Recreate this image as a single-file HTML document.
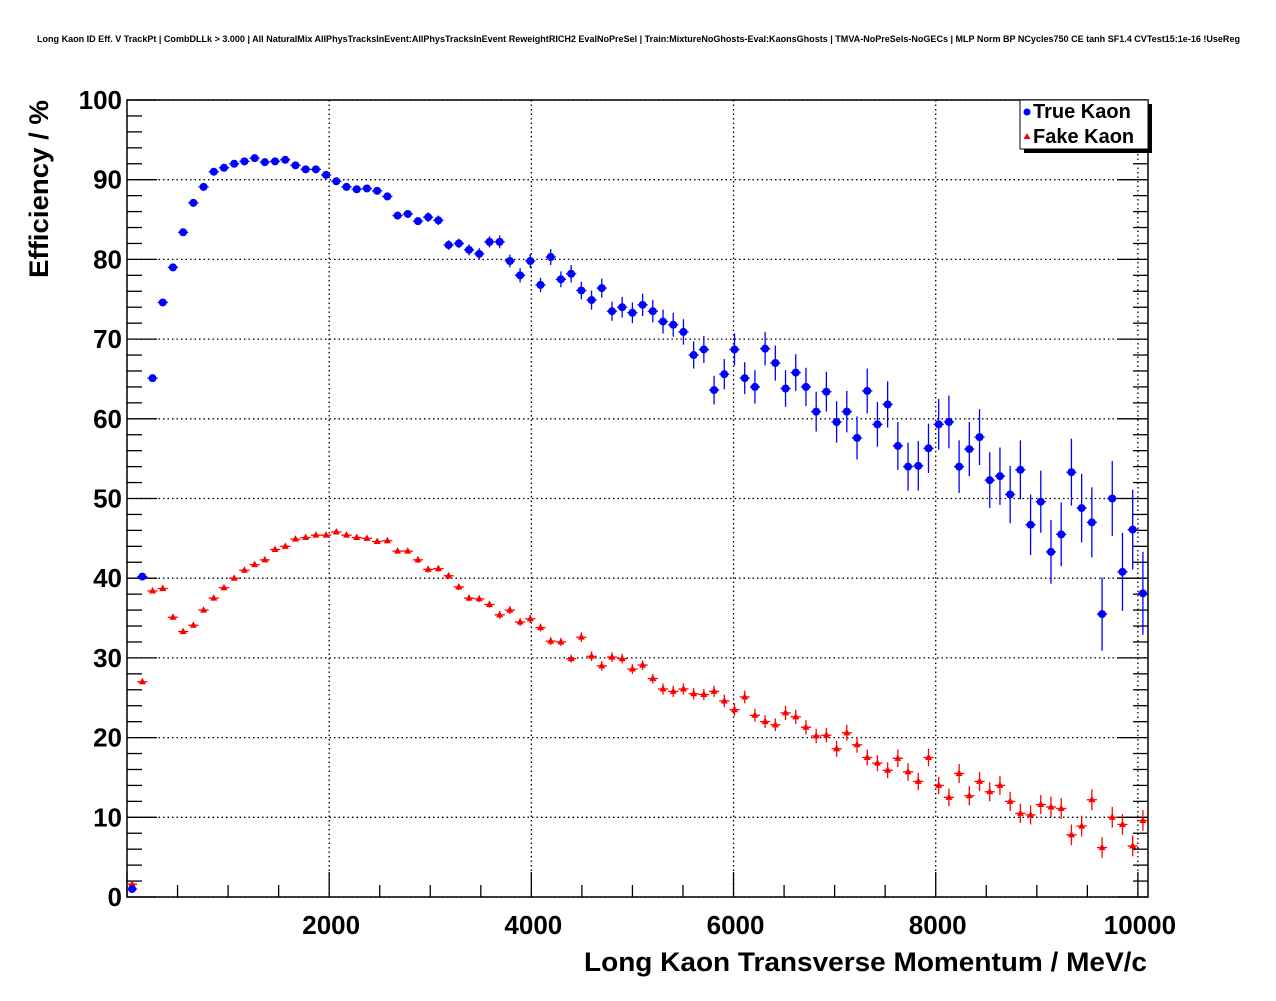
<!DOCTYPE html>
<html><head><meta charset="utf-8"><style>
html,body{margin:0;padding:0;background:#fff;}
svg text{font-family:"Liberation Sans",Arial,sans-serif;font-weight:bold;}
</style></head><body>
<svg id="chart" width="1276" height="996" xmlns="http://www.w3.org/2000/svg">
<rect width="1276" height="996" fill="#fff"/>
<text x="37" y="42" font-size="9" textLength="1203" lengthAdjust="spacingAndGlyphs">Long Kaon ID Eff. V TrackPt | CombDLLk &gt; 3.000 | All NaturalMix AllPhysTracksInEvent:AllPhysTracksInEvent ReweightRICH2 EvalNoPreSel | Train:MixtureNoGhosts-Eval:KaonsGhosts | TMVA-NoPreSels-NoGECs | MLP Norm BP NCycles750 CE tanh SF1.4 CVTest15:1e-16 !UseReg</text>
<g id="grid"></g>
<g id="axes"></g>
<g id="marks"></g>
<text transform="translate(48,278) rotate(-90)" font-size="27" textLength="178" lengthAdjust="spacingAndGlyphs">Efficiency / %</text>
<text x="584" y="971" font-size="27" textLength="563" lengthAdjust="spacingAndGlyphs">Long Kaon Transverse Momentum / MeV/c</text>
<g>
<rect x="1024" y="104" width="128" height="49" fill="#000"/>
<rect x="1020" y="100" width="128" height="49" fill="#fff" stroke="#000" stroke-width="1"/>
<circle cx="1027" cy="112" r="3.5" fill="#0000ff"/>
<text x="1033" y="118" font-size="20">True Kaon</text>
<polygon points="1027,133 1023.5,139 1030.5,139" fill="#ff0000"/>
<text x="1033" y="143" font-size="20">Fake Kaon</text>
</g>
</svg>
<script>
const trueKaon = [1,40.2,65.1,74.6,79,83.4,87.1,89.1,91,91.5,92,92.3,92.7,92.2,92.3,92.5,91.8,91.3,91.3,90.6,89.8,89.1,88.8,88.9,88.6,87.9,85.5,85.7,84.8,85.3,84.9,81.8,82,81.2,80.7,82.2,82.2,79.8,78,79.8,76.8,80.3,77.5,78.2,76.1,74.9,76.4,73.5,74,73.3,74.3,73.5,72.2,71.8,70.9,68,68.7,63.6,65.6,68.7,65.1,64,68.8,67,63.8,65.8,64,60.9,63.4,59.6,60.9,57.6,63.5,59.3,61.8,56.6,54,54.1,56.3,59.3,59.6,54,56.2,57.7,52.3,52.8,50.5,53.6,46.7,49.6,43.3,45.5,53.3,48.8,47,35.5,50,40.8,46.1,38.1];
const trueKaonErr = [0.3,0.4,0.4,0.3,0.3,0.3,0.3,0.3,0.3,0.3,0.3,0.3,0.3,0.3,0.3,0.3,0.3,0.3,0.3,0.3,0.4,0.4,0.4,0.4,0.4,0.5,0.5,0.5,0.5,0.6,0.6,0.6,0.6,0.7,0.7,0.7,0.8,0.8,0.9,0.9,0.9,1,1,1.1,1.1,1.2,1.2,1.2,1.3,1.3,1.4,1.4,1.5,1.5,1.6,1.7,1.7,1.8,1.9,2,2,2.1,2.1,2.2,2.3,2.3,2.4,2.5,2.5,2.6,2.6,2.7,2.8,2.8,2.9,3,3,3.1,3.1,3.2,3.3,3.3,3.4,3.5,3.5,3.6,3.6,3.7,3.8,3.9,4,4,4.2,4.3,4.4,4.6,4.7,4.9,5,5.2];
const fakeKaon = [1.6,27,38.4,38.7,35.1,33.3,34.1,36,37.5,38.8,40,41,41.7,42.3,43.6,44,44.9,45.1,45.4,45.4,45.8,45.4,45.1,45,44.6,44.7,43.4,43.4,42.3,41.1,41.2,40.3,38.9,37.5,37.4,36.7,35.4,36,34.5,34.9,33.8,32.1,32,29.9,32.6,30.2,29,30.1,29.9,28.6,29.1,27.4,26.1,25.8,26.1,25.5,25.4,25.8,24.6,23.5,25.1,22.8,22,21.6,23.1,22.6,21.3,20.2,20.3,18.6,20.6,19.1,17.5,16.8,15.9,17.4,15.7,14.5,17.5,14,12.5,15.5,12.7,14.5,13.2,14,12,10.5,10.3,11.6,11.3,11.1,7.8,8.9,12.2,6.2,10,9.1,6.4,9.6];
const fakeKaonErr = [0.3,0.3,0.3,0.3,0.3,0.3,0.3,0.3,0.3,0.3,0.3,0.3,0.3,0.3,0.3,0.3,0.3,0.3,0.3,0.3,0.3,0.3,0.3,0.3,0.3,0.3,0.3,0.3,0.4,0.4,0.4,0.4,0.4,0.4,0.4,0.4,0.5,0.5,0.5,0.5,0.5,0.5,0.5,0.5,0.6,0.6,0.6,0.6,0.6,0.6,0.6,0.6,0.7,0.7,0.7,0.7,0.7,0.7,0.8,0.8,0.8,0.8,0.8,0.8,0.9,0.9,0.9,0.9,0.9,1,1,1,1,1,1,1.1,1.1,1.1,1.1,1.1,1.1,1.2,1.2,1.2,1.2,1.2,1.2,1.2,1.2,1.2,1.3,1.3,1.3,1.3,1.3,1.3,1.3,1.3,1.3,1.3];
const xTicks = [2000,4000,6000,8000,10000];
const yTicks = [0,10,20,30,40,50,60,70,80,90,100];
const binWidth = 101;
const X0=127, X1=1148, Y0=897, Y1=100, XMAX=10100;
const sx = v => X0 + (v/XMAX)*(X1-X0);
const sy = v => Y0 - (v/100)*(Y0-Y1);
const NS="http://www.w3.org/2000/svg";
function mk(parent, tag, attrs){const e=document.createElementNS(NS,tag);for(const k in attrs)e.setAttribute(k,attrs[k]);parent.appendChild(e);return e;}
const grid=document.getElementById('grid'), axes=document.getElementById('axes'), marks=document.getElementById('marks');
xTicks.forEach(t=>{const l=mk(grid,'line',{x1:sx(t),x2:sx(t),y1:Y1,y2:Y0,stroke:'#000','stroke-width':1.3,'stroke-dasharray':'1.5,3'});

});
yTicks.forEach(t=>{const l=mk(grid,'line',{x1:X0,x2:X1,y1:sy(t),y2:sy(t),stroke:'#000','stroke-width':1.3,'stroke-dasharray':'1.5,3'});

});
const frame=mk(axes,'rect',{x:X0,y:Y1,width:X1-X0,height:Y0-Y1,fill:'none',stroke:'#000','stroke-width':1.5});


for(let v=0; v<=XMAX; v+=500){const maj=v%2000===0; const len=maj?25:12;
 mk(axes,'line',{x1:sx(v),x2:sx(v),y1:Y0,y2:Y0-len,stroke:'#000','stroke-width':1.3});}
xTicks.forEach(t=>{const tx=mk(axes,'text',{x:sx(t)+2,y:Y0+37,'font-size':26,'text-anchor':'middle'});tx.textContent=t;

});
for(let v=0; v<=100; v+=2){const maj=v%10===0; const len=maj?30:15;
 mk(axes,'line',{x1:X0,x2:X0+len,y1:sy(v),y2:sy(v),stroke:'#000','stroke-width':1.3});
 mk(axes,'line',{x1:X1,x2:X1-len,y1:sy(v),y2:sy(v),stroke:'#000','stroke-width':1.3});}
yTicks.forEach(t=>{const tx=mk(axes,'text',{x:X0-5,y:sy(t)+9,'font-size':26,'text-anchor':'end'});tx.textContent=t;

});
function drawSeries(vals, errs, color, shape, name){
 const g=mk(marks,'g',{});
 
 
 vals.forEach((v,i)=>{const xc=binWidth*(i+0.5); const cx=sx(xc), cy=sy(v);
  mk(g,'line',{x1:sx(xc-binWidth/2),x2:sx(xc+binWidth/2),y1:cy,y2:cy,stroke:color,'stroke-width':1.3});
  mk(g,'line',{x1:cx,x2:cx,y1:sy(v+errs[i]),y2:sy(v-errs[i]),stroke:color,'stroke-width':1.3});
  let m;
  if(shape==='circle'){m=mk(g,'circle',{cx:cx,cy:cy,r:4,fill:color});}
  else{m=mk(g,'polygon',{points:`${cx},${cy-4} ${cx-3.5},${cy+2.5} ${cx+3.5},${cy+2.5}`,fill:color});}
  
  
 });
}
drawSeries(fakeKaon,fakeKaonErr,'#ff0000','tri','fake-kaon-series');
drawSeries(trueKaon,trueKaonErr,'#0000ff','circle','true-kaon-series');
</script>
</body></html>
